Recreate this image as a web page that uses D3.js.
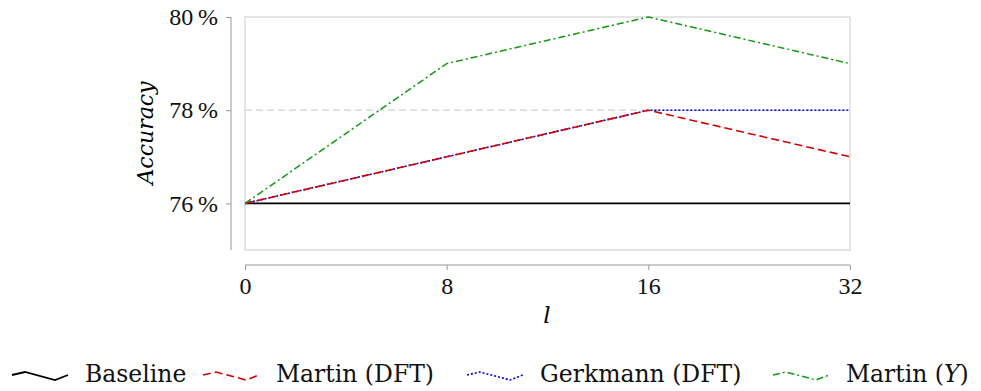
<!DOCTYPE html>
<html><head><meta charset="utf-8">
<script src="https://cdn.jsdelivr.net/npm/d3@7"></script>
<style>body{margin:0;background:#fff}svg{display:block}</style>
</head><body>
<svg id="c" width="981" height="391"></svg>
<script>
const categories = ["0","8","16","32"];
const seriesNames = ["Baseline","Martin (DFT)","Gerkmann (DFT)","Martin (Y)"];
const baseline = [76,76,76,76];
const martinDFT = [76,77,78,77];
const gerkmannDFT = [76,77,78,78];
const martinY = [76,79,80,79];
const yTicks = [76,78,80];
const refLine = 78;

const colors = ["#000000","#d40000","#0000dd","#119911"];
const dashes = [null,"8,4","2,2","7,3,2,3"];
const widths = [1.8,1.6,1.6,1.5];
const allSeries = [baseline, martinDFT, gerkmannDFT, martinY];
const drawOrder = [0,2,1,3];

const svg = d3.select("#c");
const font = "'DejaVu Serif', serif";
const numFont = "'Liberation Serif', serif";
const L=245,R=850,T=17,B=250;
const x = d3.scalePoint().domain(categories).range([L,R]);
const y = d3.scaleLinear().domain([75,80]).range([B,T]);

// plot frame
svg.append("rect").attr("x",L).attr("y",T).attr("width",R-L).attr("height",B-T)
  .attr("fill","none").attr("stroke","#cccccc").attr("stroke-width",1);

// ref line
svg.append("line").attr("x1",L).attr("x2",R).attr("y1",y(refLine)).attr("y2",y(refLine))
  .attr("stroke","#d0d0d0").attr("stroke-width",1.3).attr("stroke-dasharray","7,4");

// y axis
const ya = svg.append("g").attr("transform","translate(231,0)")
  .call(d3.axisLeft(y).tickValues(yTicks).tickSize(5).tickPadding(8).tickFormat(d=>d+"\u2009%"));
ya.select(".domain").attr("stroke","#999").attr("d",`M0,${T}V${B}`);
ya.selectAll(".tick line").attr("stroke","#999");
ya.selectAll("text").attr("font-family",numFont).attr("font-size",24).attr("fill","#111");

// x axis
const xa = svg.append("g").attr("transform","translate(0,265)")
  .call(d3.axisBottom(x).tickSize(5).tickPadding(7));
xa.select(".domain").attr("stroke","#999").attr("d",`M${L},0H${R}`);
xa.selectAll(".tick line").attr("stroke","#999");
xa.selectAll("text").attr("font-family",numFont).attr("font-size",24).attr("fill","#111");

// axis labels
svg.append("text").attr("x",547).attr("y",323).attr("text-anchor","middle")
  .attr("font-family",font).attr("font-style","italic").attr("font-size",23).text("l");
svg.append("text").attr("transform","translate(153,133) rotate(-90)").attr("text-anchor","middle")
  .attr("font-family",font).attr("font-style","italic").attr("font-size",22).text("Accuracy");

// lines
const line = d3.line().x((d,i)=>x(categories[i])).y(d=>y(d));
drawOrder.forEach(k=>{
  svg.append("path").attr("d",line(allSeries[k])).attr("fill","none").attr("stroke",colors[k])
    .attr("stroke-width",widths[k]).attr("stroke-dasharray",dashes[k]);
});

// legend
const legX = [12,203,467,773];
const ly = 375;
seriesNames.forEach((n,k)=>{
  const g = svg.append("g").attr("transform",`translate(${legX[k]},${ly})`);
  g.append("path").attr("d","M0,0L13,-3L43,5L56,0").attr("fill","none").attr("stroke",colors[k])
    .attr("stroke-width",widths[k]).attr("stroke-dasharray",dashes[k]);
  const t = g.append("text").attr("x",73).attr("y",7).attr("font-family",font).attr("font-size",23.5).attr("fill","#111");
  if(k===3){ t.append("tspan").text("Martin ("); t.append("tspan").attr("font-style","italic").text("Y"); t.append("tspan").text(")"); }
  else t.text(n);
});
</script>
</body></html>
